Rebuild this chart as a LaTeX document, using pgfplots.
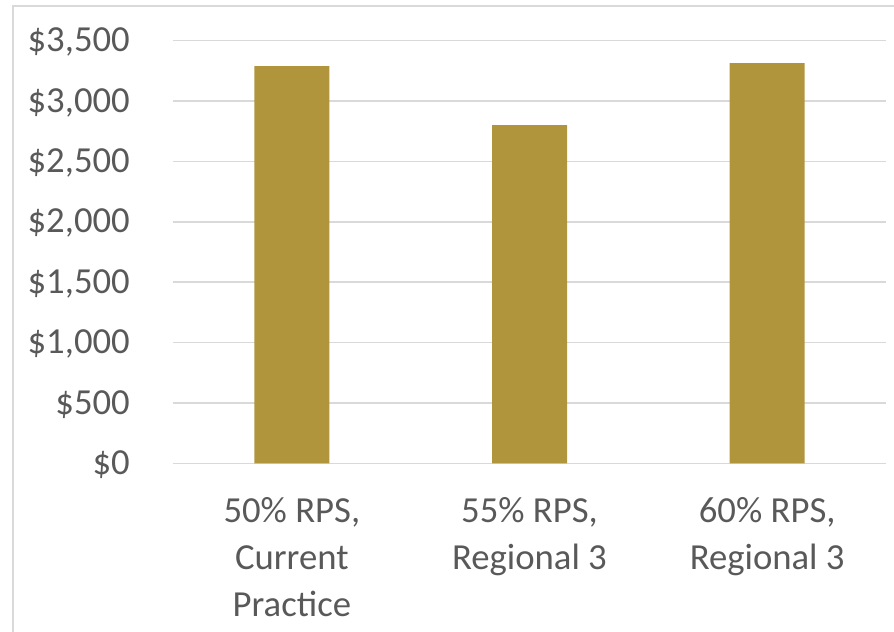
\documentclass[border=0pt]{standalone}
\usepackage{pgfplots}
\pgfplotsset{compat=1.18}
\usepackage{fontspec}
\setmainfont{Carlito}
\definecolor{barc}{HTML}{B0953D}
\definecolor{gridc}{HTML}{D9D9D9}
\definecolor{txt}{HTML}{595959}
\begin{document}
\begin{tikzpicture}
\path[use as bounding box] (-173bp,-168.6bp) rectangle (721bp,463.4bp);
\draw[gridc, line width=1.5bp] (-160bp,-168.6bp) -- (-160bp,457.4bp) -- (721bp,457.4bp);
\begin{axis}[
  at={(0,0)}, anchor=south west,
  scale only axis,
  width=713bp, height=422.7bp,
  xmin=-0.5, xmax=2.5,
  ymin=0, ymax=3500,
  axis line style={draw=none},
  major tick length=0pt,
  ymajorgrids,
  major grid style={gridc, line width=1.6bp},
  ytick={0,500,1000,1500,2000,2500,3000,3500},
  yticklabels={{\$0},{\$500},{\$1,000},{\$1,500},{\$2,000},{\$2,500},{\$3,000},{\$3,500}},
  xtick={0,1,2},
  xticklabels={{50\% RPS,\\Current\\Practice},{55\% RPS,\\Regional 3},{60\% RPS,\\Regional 3}},
  ticklabel style={font=\fontsize{36.7bp}{46.7bp}\selectfont, text=txt, inner sep=0pt},
  xticklabel style={align=center},
  yticklabel style={yshift=-1.5bp},
  xticklabel shift=34bp,
  yticklabel shift=43bp,
  ybar, bar width=75bp,
  clip=false,
]
\addplot[fill=barc, draw=none] coordinates {(0,3290) (1,2800) (2,3315)};
\end{axis}
\end{tikzpicture}
\end{document}
